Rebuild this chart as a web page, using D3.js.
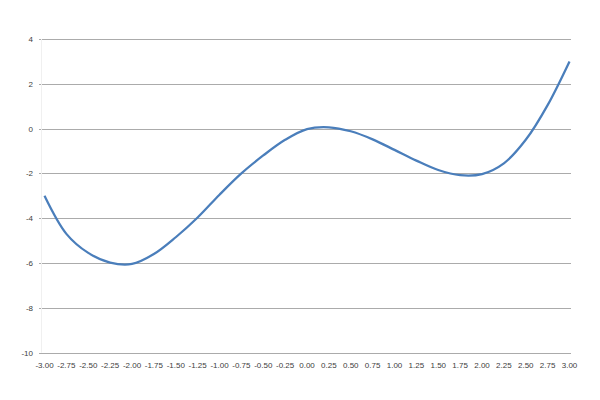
<!DOCTYPE html>
<html>
<head>
<meta charset="utf-8">
<script src="https://cdn.jsdelivr.net/npm/d3@7"></script>
<style>
  html, body { margin: 0; padding: 0; background: #fff; }
  svg { display: block; }
  text { font-family: "Liberation Sans", Arial, sans-serif; fill: #404040; }
</style>
</head>
<body>
<svg id="chart" width="600" height="400"></svg>
<script>
const categories = ["-3.00","-2.75","-2.50","-2.25","-2.00","-1.75","-1.50","-1.25","-1.00","-0.75","-0.50","-0.25","0.00","0.25","0.50","0.75","1.00","1.25","1.50","1.75","2.00","2.25","2.50","2.75","3.00"];
const values = [-3.0,-4.7,-5.55,-5.98,-6.04,-5.6,-4.85,-3.97,-2.95,-2.0,-1.2,-0.5,-0.02,0.06,-0.12,-0.48,-0.95,-1.43,-1.85,-2.08,-2.03,-1.55,-0.5,1.05,3.0];
const yTicks = [4,2,0,-2,-4,-6,-8,-10];

const svg = d3.select("#chart");
const x = d3.scalePoint().domain(categories).range([44.5, 569.5]);
const y = d3.scaleLinear().domain([-10, 4]).range([352.6, 39]);
const left = 39, right = 571;

// gridlines
svg.append("g").selectAll("line").data(yTicks).join("line")
  .attr("x1", left).attr("x2", right)
  .attr("y1", d => Math.round(y(d)) + 0.5).attr("y2", d => Math.round(y(d)) + 0.5)
  .attr("stroke", "#ababab").attr("stroke-width", 1);

// faint vertical axis line
svg.append("line")
  .attr("x1", 41.5).attr("x2", 41.5).attr("y1", y(4)).attr("y2", y(-10))
  .attr("stroke", "#f0f0f0").attr("stroke-width", 1);

// y labels
svg.append("g").selectAll("text").data(yTicks).join("text")
  .attr("x", 33).attr("y", d => y(d) + 3)
  .attr("text-anchor", "end").attr("font-size", 8)
  .text(d => d);

// x labels
svg.append("g").selectAll("text").data(categories).join("text")
  .attr("x", d => x(d)).attr("y", 368)
  .attr("text-anchor", "middle").attr("font-size", 8)
  .text(d => d);

// line
const line = d3.line()
  .x((d, i) => x(categories[i]))
  .y(d => y(d))
  .curve(d3.curveCatmullRom.alpha(0.5));

svg.append("path").datum(values)
  .attr("d", line)
  .attr("fill", "none")
  .attr("stroke", "#4a7ebb")
  .attr("stroke-width", 2.25)
  .attr("stroke-linejoin", "round");
</script>
</body>
</html>
